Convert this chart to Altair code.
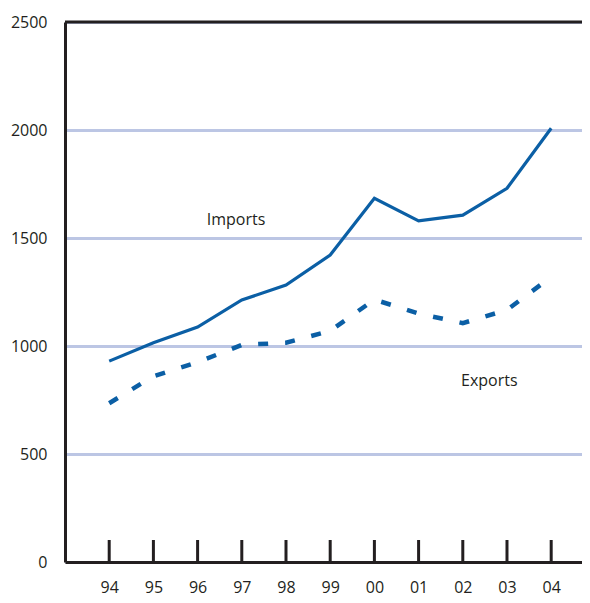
import altair as alt
import pandas as pd

years = ["94", "95", "96", "97", "98", "99", "00", "01", "02", "03", "04"]
imports = [930, 1015, 1088, 1213, 1282, 1421, 1684, 1579, 1606, 1730, 2008]
exports = [735, 860, 925, 1005, 1015, 1070, 1215, 1150, 1106, 1167, 1320]

label_text = ["Imports", "Exports"]
label_x = [2.87, 8.6]
label_y = [1583, 838]

W, H = 517, 540
LINE = "#0b5fa5"
FONT = "Open Sans"

idx = list(range(len(years)))
df = pd.DataFrame({"i": idx, "year": years, "Imports": imports, "Exports": exports})
labels = pd.DataFrame({"t": label_text, "x": label_x, "y": label_y})

xscale = alt.Scale(domain=[-1, 10.697], nice=False, zero=False)
yscale = alt.Scale(domain=[0, 2500], nice=False)

label_expr = "[" + ",".join("'%s'" % y for y in years) + "][datum.value]"

xaxis = alt.Axis(values=idx, labelExpr=label_expr, title=None, ticks=False,
                 domainColor="#231f20", domainWidth=3, grid=False,
                 labelFont=FONT, labelFontSize=16, labelColor="#231f20",
                 labelPadding=17, labelBaseline="top")
yaxis = alt.Axis(values=[0, 500, 1000, 1500, 2000, 2500], title=None, ticks=False,
                 format="d",
                 domainColor="#231f20", domainWidth=3, grid=True,
                 gridColor="#bcc6e4", gridWidth=3,
                 labelFont=FONT, labelFontSize=16, labelColor="#231f20",
                 labelPadding=18)

base = alt.Chart(df)

imp = base.mark_line(color=LINE, strokeWidth=3.2, strokeJoin="miter").encode(
    x=alt.X("i:Q", scale=xscale, axis=xaxis),
    y=alt.Y("Imports:Q", scale=yscale, axis=yaxis),
)
exp = base.mark_line(color=LINE, strokeWidth=4.5, strokeDash=[10, 17],
                     strokeCap="butt").encode(
    x=alt.X("i:Q", scale=xscale),
    y=alt.Y("Exports:Q", scale=yscale),
)
ticks = base.mark_rule(color="#231f20", strokeWidth=3).encode(
    x=alt.X("i:Q", scale=xscale),
    y=alt.value(H - 22),
    y2=alt.value(H),
)
top = alt.Chart(pd.DataFrame({"v": [2500]})).mark_rule(color="#231f20", strokeWidth=3).encode(
    y=alt.Y("v:Q", scale=yscale),
    x=alt.value(0),
    x2=alt.value(W),
)
txt = alt.Chart(labels).mark_text(font=FONT, fontSize=16, color="#231f20").encode(
    x=alt.X("x:Q", scale=xscale),
    y=alt.Y("y:Q", scale=yscale),
    text="t:N",
)

chart = alt.layer(imp, exp, ticks, top, txt).properties(
    width=W, height=H,
    autosize=alt.AutoSizeParams(type="none"),
    padding={"left": 57, "top": 14, "right": 0, "bottom": 34},
).configure_view(strokeWidth=0)

chart.save("out.html", embed_options={"renderer": "svg", "actions": False})
